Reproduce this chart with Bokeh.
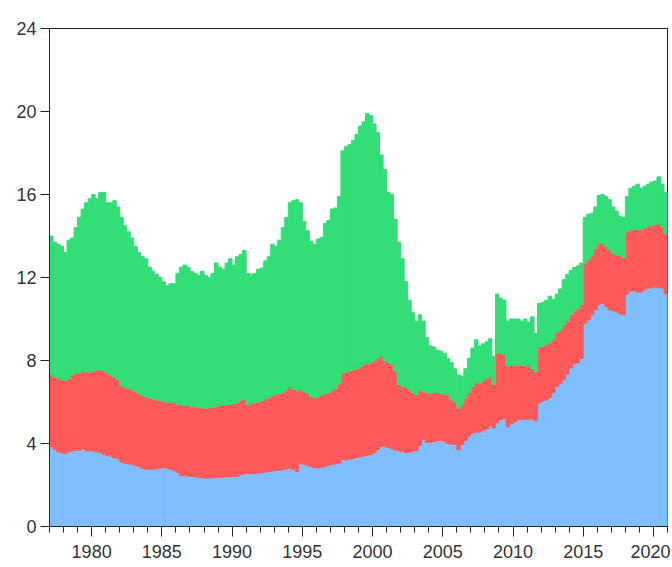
from bokeh.plotting import figure
from bokeh.models import ColumnDataSource, FixedTicker, Range1d
from bokeh.embed import file_html
from bokeh.resources import INLINE
import pandas as pd

# Quarterly observations 1977Q1 .. 2020Q4
quarters = pd.period_range("1977Q1", "2020Q4", freq="Q")

# bottom component (blue)
blue = [
    3.85, 3.72, 3.60, 3.55,  # 1977
    3.52, 3.60, 3.64, 3.67,  # 1978
    3.68, 3.75, 3.66, 3.64,  # 1979
    3.64, 3.60, 3.56, 3.48,  # 1980
    3.42, 3.38, 3.32, 3.27,  # 1981
    3.10, 3.05, 3.02, 3.00,  # 1982
    2.95, 2.90, 2.80, 2.77,  # 1983
    2.76, 2.76, 2.78, 2.80,  # 1984
    2.84, 2.82, 2.76, 2.70,  # 1985
    2.60, 2.45, 2.44, 2.43,  # 1986
    2.41, 2.40, 2.37, 2.36,  # 1987
    2.33, 2.34, 2.35, 2.36,  # 1988
    2.37, 2.38, 2.39, 2.39,  # 1989
    2.40, 2.42, 2.50, 2.53,  # 1990
    2.55, 2.55, 2.56, 2.58,  # 1991
    2.60, 2.62, 2.65, 2.67,  # 1992
    2.69, 2.71, 2.75, 2.78,  # 1993
    2.80, 2.76, 2.65, 3.05,  # 1994
    3.00, 2.95, 2.88, 2.84,  # 1995
    2.82, 2.85, 2.90, 2.95,  # 1996
    3.00, 3.02, 3.05, 3.22,  # 1997
    3.20, 3.24, 3.28, 3.33,  # 1998
    3.35, 3.40, 3.43, 3.47,  # 1999
    3.55, 3.70, 3.85, 3.87,  # 2000
    3.80, 3.75, 3.68, 3.64,  # 2001
    3.62, 3.56, 3.56, 3.62,  # 2002
    3.66, 3.90, 4.20, 4.05,  # 2003
    4.05, 4.09, 4.12, 4.15,  # 2004
    4.10, 4.00, 3.97, 3.96,  # 2005
    3.70, 3.96, 4.15, 4.36,  # 2006
    4.50, 4.55, 4.55, 4.62,  # 2007
    4.70, 4.85, 4.75, 5.00,  # 2008
    5.15, 5.22, 4.80, 4.95,  # 2009
    5.05, 5.15, 5.17, 5.17,  # 2010
    5.17, 5.17, 5.10, 5.95,  # 2011
    6.05, 6.10, 6.20, 6.45,  # 2012
    6.75, 6.90, 7.10, 7.35,  # 2013
    7.65, 7.85, 7.90, 8.10,  # 2014
    9.80, 9.95, 10.20, 10.45,  # 2015
    10.70, 10.75, 10.60, 10.45,  # 2016
    10.40, 10.35, 10.25, 10.20,  # 2017
    11.20, 11.35, 11.35, 11.30,  # 2018
    11.30, 11.40, 11.50, 11.50,  # 2019
    11.55, 11.50, 11.50, 11.20,  # 2020
]

# middle component (red)
red = [
    3.45, 3.48, 3.55, 3.55,  # 1977
    3.53, 3.55, 3.66, 3.73,  # 1978
    3.72, 3.75, 3.79, 3.81,  # 1979
    3.86, 3.95, 3.99, 4.02,  # 1980
    3.98, 3.92, 3.88, 3.83,  # 1981
    3.70, 3.65, 3.63, 3.60,  # 1982
    3.55, 3.50, 3.50, 3.48,  # 1983
    3.44, 3.39, 3.32, 3.28,  # 1984
    3.21, 3.18, 3.24, 3.27,  # 1985
    3.30, 3.40, 3.39, 3.42,  # 1986
    3.39, 3.38, 3.38, 3.36,  # 1987
    3.37, 3.38, 3.40, 3.44,  # 1988
    3.48, 3.47, 3.48, 3.50,  # 1989
    3.52, 3.55, 3.60, 3.60,  # 1990
    3.34, 3.38, 3.41, 3.44,  # 1991
    3.45, 3.53, 3.56, 3.63,  # 1992
    3.68, 3.71, 3.70, 3.82,  # 1993
    3.95, 3.84, 3.90, 3.55,  # 1994
    3.50, 3.45, 3.37, 3.37,  # 1995
    3.43, 3.48, 3.50, 3.50,  # 1996
    3.55, 3.63, 3.85, 4.18,  # 1997
    4.25, 4.26, 4.27, 4.27,  # 1998
    4.35, 4.40, 4.42, 4.43,  # 1999
    4.45, 4.40, 4.40, 4.11,  # 2000
    4.10, 4.05, 3.82, 3.21,  # 2001
    3.15, 3.14, 3.04, 2.83,  # 2002
    2.69, 2.70, 2.30, 2.40,  # 2003
    2.35, 2.36, 2.33, 2.25,  # 2004
    2.27, 2.35, 2.13, 2.04,  # 2005
    2.00, 1.94, 2.05, 2.09,  # 2006
    2.25, 2.40, 2.35, 2.43,  # 2007
    2.45, 2.35, 2.10, 3.35,  # 2008
    3.20, 3.08, 2.95, 2.83,  # 2009
    2.70, 2.65, 2.63, 2.58,  # 2010
    2.63, 2.43, 2.35, 2.70,  # 2011
    2.65, 2.68, 2.66, 2.58,  # 2012
    2.60, 2.57, 2.60, 2.56,  # 2013
    2.55, 2.54, 2.57, 2.61,  # 2014
    2.90, 2.90, 2.85, 2.95,  # 2015
    2.95, 2.90, 2.90, 2.90,  # 2016
    2.75, 2.75, 2.80, 2.75,  # 2017
    3.00, 2.95, 2.95, 3.00,  # 2018
    3.00, 3.00, 3.00, 3.00,  # 2019
    3.00, 3.10, 2.95, 2.90,  # 2020
]

# top component (green)
green = [
    6.70, 6.50, 6.45, 6.40,  # 1977
    6.15, 6.65, 6.60, 7.00,  # 1978
    7.50, 7.80, 8.15, 8.35,  # 1979
    8.50, 8.25, 8.55, 8.60,  # 1980
    8.20, 8.30, 8.50, 8.30,  # 1981
    8.10, 7.80, 7.55, 7.30,  # 1982
    7.00, 6.80, 6.70, 6.65,  # 1983
    6.30, 6.15, 6.05, 5.92,  # 1984
    5.75, 5.60, 5.70, 5.73,  # 1985
    6.30, 6.65, 6.77, 6.65,  # 1986
    6.50, 6.42, 6.35, 6.58,  # 1987
    6.40, 6.28, 6.45, 6.90,  # 1988
    6.65, 6.55, 6.83, 7.01,  # 1989
    6.68, 7.03, 7.00, 7.17,  # 1990
    6.31, 6.22, 6.23, 6.38,  # 1991
    6.40, 6.65, 6.79, 7.30,  # 1992
    7.13, 7.38, 7.95, 8.30,  # 1993
    8.85, 9.10, 9.20, 9.00,  # 1994
    8.20, 7.85, 7.50, 7.39,  # 1995
    7.60, 7.60, 8.20, 8.30,  # 1996
    8.75, 8.70, 9.00, 10.70,  # 1997
    10.85, 10.90, 11.05, 11.30,  # 1998
    11.60, 11.70, 12.05, 11.90,  # 1999
    11.40, 10.90, 9.65, 9.22,  # 2000
    8.20, 8.20, 7.30, 6.85,  # 2001
    6.13, 5.10, 4.30, 3.85,  # 2002
    3.55, 3.60, 3.40, 2.65,  # 2003
    2.30, 2.20, 2.05, 2.05,  # 2004
    1.98, 1.75, 1.80, 1.60,  # 2005
    1.60, 1.35, 1.40, 1.65,  # 2006
    1.85, 2.05, 1.80, 1.75,  # 2007
    1.75, 1.85, 1.35, 2.85,  # 2008
    2.65, 2.60, 2.15, 2.22,  # 2009
    2.25, 2.20, 2.10, 2.25,  # 2010
    2.05, 2.50, 1.85, 2.10,  # 2011
    2.10, 2.12, 2.24, 1.92,  # 2012
    1.85, 1.98, 2.20, 2.24,  # 2013
    2.15, 2.09, 2.09, 1.99,  # 2014
    2.20, 2.20, 2.05, 2.00,  # 2015
    2.30, 2.35, 2.40, 2.40,  # 2016
    2.25, 2.10, 1.90, 1.95,  # 2017
    1.70, 2.00, 2.10, 2.20,  # 2018
    2.00, 2.00, 2.00, 2.10,  # 2019
    2.10, 2.25, 2.05, 2.00,  # 2020
]

year_ticks = [1980, 1985, 1990, 1995, 2000, 2005, 2010, 2015, 2020]
minor_year_ticks = list(range(1977, 2022))
value_ticks = [0, 4, 8, 12, 16, 20, 24]

colors = ["#80BFFF", "#FF5A5A", "#33DD77"]

x = [q.year + (q.quarter - 1) / 4 + 0.125 for q in quarters]
src = ColumnDataSource(dict(x=x, blue=blue, red=red, green=green))

p = figure(width=670, height=565,
           x_range=Range1d(1977, 2021), y_range=Range1d(0, 24),
           output_backend="svg", toolbar_location=None,
           min_border_left=49, min_border_top=28,
           min_border_right=3, min_border_bottom=39)

p.vbar_stack(["blue", "red", "green"], x="x", width=0.25, source=src,
             color=colors, line_width=1.0)

p.xgrid.visible = False
p.ygrid.visible = False
p.outline_line_color = "#222222"
p.outline_line_width = 1
p.background_fill_color = "white"
p.border_fill_color = "white"

font = "Liberation Sans"

p.xaxis.ticker = FixedTicker(ticks=year_ticks, minor_ticks=minor_year_ticks)
p.xaxis.major_tick_out = 10
p.xaxis.major_tick_in = 0
p.xaxis.minor_tick_out = 6
p.xaxis.minor_tick_in = 0
p.xaxis.major_label_standoff = 8

p.yaxis.ticker = FixedTicker(ticks=value_ticks, minor_ticks=[])
p.yaxis.major_tick_out = 9
p.yaxis.major_tick_in = 0
p.yaxis.minor_tick_out = 0
p.yaxis.minor_tick_in = 0
p.yaxis.major_label_standoff = 4

for ax in (p.xaxis, p.yaxis):
    ax.axis_line_color = "#222222"
    ax.major_tick_line_color = "#222222"
    ax.minor_tick_line_color = "#222222"
    ax.major_label_text_font = font
    ax.major_label_text_font_size = "18px"
    ax.major_label_text_color = "#333333"

open("out.html", "w").write(file_html(p, INLINE))
